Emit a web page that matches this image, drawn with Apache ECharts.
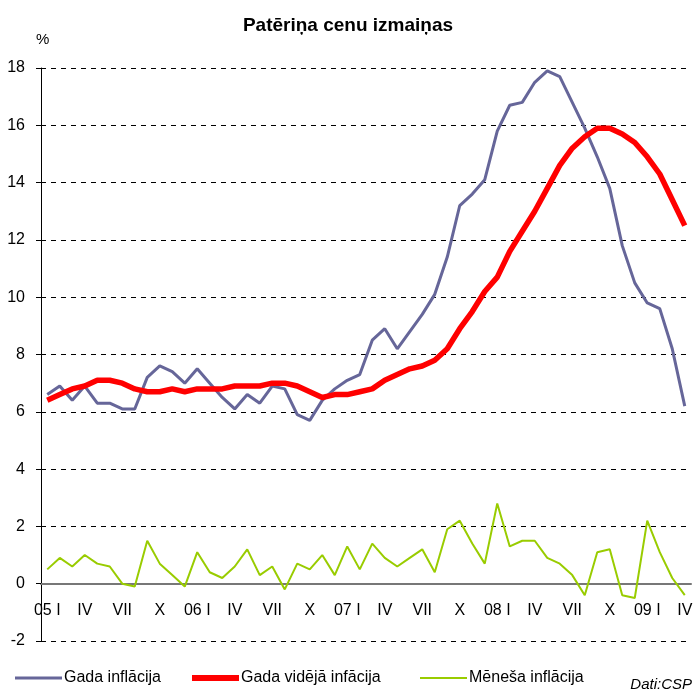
<html>
<head>
<meta charset="UTF-8">
<script src="https://cdn.jsdelivr.net/npm/echarts/dist/echarts.min.js"></script>
<title>Patēriņa cenu izmaiņas</title>
<style>
	body { margin: 0; background: #fff; }
	#main { width: 696px; height: 691px; }
</style>
</head>
<body>
	<div id="main"></div>
</body>
<script type="text/javascript">
	// months 2005 I .. 2009 IV
	var months = [
		'05 I', 'II', 'III', 'IV', 'V', 'VI', 'VII', 'VIII', 'IX', 'X', 'XI', 'XII',
		'06 I', 'II', 'III', 'IV', 'V', 'VI', 'VII', 'VIII', 'IX', 'X', 'XI', 'XII',
		'07 I', 'II', 'III', 'IV', 'V', 'VI', 'VII', 'VIII', 'IX', 'X', 'XI', 'XII',
		'08 I', 'II', 'III', 'IV', 'V', 'VI', 'VII', 'VIII', 'IX', 'X', 'XI', 'XII',
		'09 I', 'II', 'III', 'IV'
	];
	var gadaInflacija = [
		6.6, 6.9, 6.4, 6.9, 6.3, 6.3, 6.1, 6.1, 7.2, 7.6,
		7.4, 7.0, 7.5, 7.0, 6.5, 6.1, 6.6, 6.3, 6.9, 6.8,
		5.9, 5.7, 6.4, 6.8, 7.1, 7.3, 8.5, 8.9, 8.2, 8.8,
		9.4, 10.1, 11.4, 13.2, 13.6, 14.1, 15.8, 16.7, 16.8, 17.5,
		17.9, 17.7, 16.8, 15.9, 14.9, 13.8, 11.8, 10.5, 9.8, 9.6,
		8.2, 6.2
	];
	var gadaVidejaInflacija = [
		6.4, 6.6, 6.8, 6.9, 7.1, 7.1, 7.0, 6.8, 6.7, 6.7,
		6.8, 6.7, 6.8, 6.8, 6.8, 6.9, 6.9, 6.9, 7.0, 7.0,
		6.9, 6.7, 6.5, 6.6, 6.6, 6.7, 6.8, 7.1, 7.3, 7.5,
		7.6, 7.8, 8.2, 8.9, 9.5, 10.2, 10.7, 11.6, 12.3, 13.0,
		13.8, 14.6, 15.2, 15.6, 15.9, 15.9, 15.7, 15.4, 14.9, 14.3,
		13.4, 12.5
	];
	var menesaInflacija = [
		0.5, 0.9, 0.6, 1.0, 0.7, 0.6, 0.0, -0.1, 1.5, 0.7,
		0.3, -0.1, 1.1, 0.4, 0.2, 0.6, 1.2, 0.3, 0.6, -0.2,
		0.7, 0.5, 1.0, 0.3, 1.3, 0.5, 1.4, 0.9, 0.6, 0.9,
		1.2, 0.4, 1.9, 2.2, 1.4, 0.7, 2.8, 1.3, 1.5, 1.5,
		0.9, 0.7, 0.3, -0.4, 1.1, 1.2, -0.4, -0.5, 2.2, 1.1,
		0.2, -0.4
	];
	var seriesNames = ['Gada inflācija', 'Gada vidējā infācija', 'Mēneša inflācija'];
	var seriesColors = ['#666699', '#ff0000', '#99cc00'];

	window.onload = function() {
		var myChart = echarts.init(document.getElementById('main'));
		var font = 'Liberation Sans, Arial, sans-serif';
		// x axis sits on the 0 line: 2 units above the -2 bottom
		var zeroOffset = -(691 - 68 - 50) / 20 * 2;
		function legendItem(i, left, h) {
			return {
				left : left,
				top : 670,
				padding : 0,
				icon : 'rect',
				itemWidth : 47,
				itemHeight : h,
				textStyle : { fontSize : 16, color : '#000', fontFamily : font, padding : [0, 0, 0, -3] },
				data : [ seriesNames[i] ]
			};
		}
		var option = {
			animation : false,
			backgroundColor : '#fff',
			textStyle : { fontFamily : font },
			title : {
				text : 'Patēriņa cenu izmaiņas',
				left : 'center',
				top : 11,
				textStyle : { fontSize : 19, fontWeight : 'bold', color : '#000', fontFamily : font }
			},
			graphic : [ {
				type : 'text',
				left : 36,
				top : 32,
				style : { text : '%', fontSize : 15, fill : '#000', fontFamily : font }
			}, {
				type : 'text',
				right : 4,
				top : 677,
				style : { text : 'Dati:CSP', fontSize : 15, fontStyle : 'italic', fill : '#000', fontFamily : font }
			} ],
			legend : [ legendItem(0, 15, 3), legendItem(1, 192, 6), legendItem(2, 420, 2) ],
			grid : { left : 41, right : 5, top : 68, bottom : 50 },
			xAxis : {
				type : 'category',
				data : months,
				boundaryGap : true,
				offset : zeroOffset,
				axisLine : { onZero : false, lineStyle : { color : '#777', width : 2 } },
				axisTick : { interval : 2, length : 5, lineStyle : { color : '#555' } },
				axisLabel : { interval : 2, margin : 19, fontSize : 16, color : '#000' },
				splitLine : { show : false }
			},
			yAxis : {
				type : 'value',
				min : -2,
				max : 18,
				interval : 2,
				axisLine : { show : true, lineStyle : { color : '#000', width : 1 } },
				axisTick : { show : true, length : 5, lineStyle : { color : '#000' } },
				axisLabel : { margin : 16, fontSize : 16, color : '#000' },
				splitLine : { lineStyle : { color : '#000', type : [5, 5], width : 1 } }
			},
			series : [ {
				name : seriesNames[0],
				type : 'line',
				data : gadaInflacija,
				symbol : 'none',
				z : 3,
				lineStyle : { color : seriesColors[0], width : 3 },
				itemStyle : { color : seriesColors[0] }
			}, {
				name : seriesNames[1],
				type : 'line',
				data : gadaVidejaInflacija,
				symbol : 'none',
				z : 4,
				lineStyle : { color : seriesColors[1], width : 5.5 },
				itemStyle : { color : seriesColors[1] }
			}, {
				name : seriesNames[2],
				type : 'line',
				data : menesaInflacija,
				symbol : 'none',
				z : 2,
				lineStyle : { color : seriesColors[2], width : 2 },
				itemStyle : { color : seriesColors[2] }
			} ]
		};
		myChart.setOption(option);
	}
</script>
</html>
